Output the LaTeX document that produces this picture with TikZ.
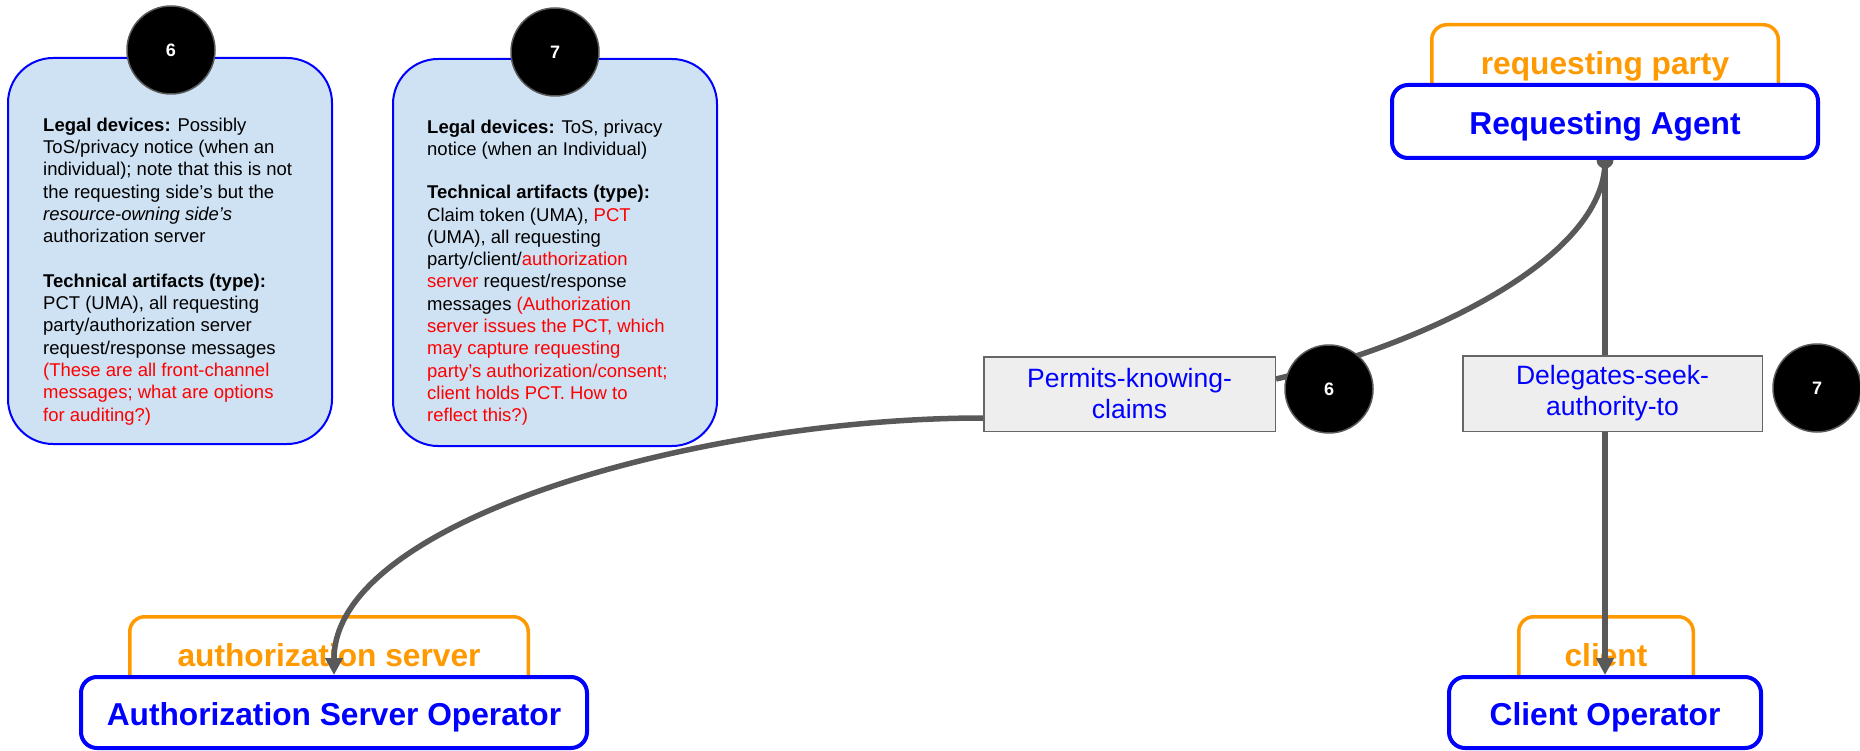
\documentclass[tikz,border=0pt]{standalone}
\usepackage{fontspec}
\setmainfont{Liberation Sans}
\usetikzlibrary{arrows.meta}

\definecolor{infofill}{HTML}{CFE2F3}
\definecolor{edgeblue}{HTML}{0000FF}
\definecolor{roleorange}{HTML}{FF9900}
\definecolor{conngray}{HTML}{595959}
\definecolor{labelfill}{HTML}{EEEEEE}
\definecolor{labeledge}{HTML}{666666}
\definecolor{notered}{HTML}{FF0000}

\pgfdeclarelayer{rolelayer}
\pgfdeclarelayer{linklayer}
\pgfsetlayers{rolelayer,linklayer,main}

\begin{document}
\begin{tikzpicture}[x=1pt,y=-1pt,
  infobox/.style={draw=edgeblue, line width=2pt, fill=infofill,
    rounded corners=45pt, inner sep=0pt},
  infotext/.style={align=left, inner sep=0pt, anchor=north west,
    font=\fontsize{18.5pt}{22.3pt}\selectfont},
  badge/.style={circle, fill=black, draw=conngray, line width=1.5pt,
    minimum size=88pt, inner sep=0pt, text=white,
    font=\fontsize{18pt}{18pt}\selectfont\bfseries},
  rolebox/.style={draw=roleorange, line width=3.5pt, rounded corners=15pt,
    fill=white, text=roleorange, inner sep=0pt,
    text height=23pt, text depth=6.7pt,
    font=\fontsize{31.7pt}{34pt}\selectfont\bfseries},
  actor/.style={draw=edgeblue, line width=4pt, rounded corners=16pt,
    fill=white, text=edgeblue, inner sep=0pt,
    text height=26.5pt, text depth=0pt,
    font=\fontsize{31.7pt}{34pt}\selectfont\bfseries},
  linkbox/.style={draw=labeledge, line width=1.5pt, fill=labelfill,
    text=edgeblue, align=center, inner sep=0pt,
    font=\fontsize{26.5pt}{31pt}\selectfont},
  link/.style={draw=conngray, line width=5.5pt},
  tip/.style={-{Triangle[length=17pt,width=17pt]}}
]
\useasboundingbox (0,0) rectangle (1860,751);

% ---- role frames behind the actors ----
\begin{pgfonlayer}{rolelayer}
  \node[rolebox, minimum width=346.5pt, minimum height=82.5pt] (rp) at (1605,66) {requesting party};
  \node[rolebox, minimum width=398.5pt, minimum height=82.5pt] (as) at (329,658) {authorization server};
  \node[rolebox, minimum width=174.5pt, minimum height=82.5pt] (cl) at (1606,658) {client};
\end{pgfonlayer}

% ---- actors ----
\node[actor, minimum width=426pt, minimum height=73pt] (ra) at (1605,121.5) {Requesting Agent};
\node[actor, minimum width=506pt, minimum height=71pt] (aso) at (334,712.5) {Authorization Server Operator};
\node[actor, minimum width=312pt, minimum height=71pt] (co) at (1605,712.5) {Client Operator};

% ---- relationship labels and their badges ----
\node[linkbox, minimum width=291.5pt, minimum height=74.5pt] (pk) at (1129.5,394) {Permits-knowing-\\claims};
\node[linkbox, minimum width=299.5pt, minimum height=75.5pt] (ds) at (1612.5,393.5) {Delegates-seek-\\authority-to};
\node[badge] (m6) at (1329,389) {6};
\node[badge] (m7) at (1817,388) {7};

% ---- connectors ----
\begin{pgfonlayer}{linklayer}
  \fill[conngray] (ra.south) circle (8.5pt);
  \draw[link] (ra.south) .. controls (1606,260) and (1420,345) .. ([yshift=15pt]pk.east);
  \draw[link, tip] ([yshift=-24pt]pk.west) .. controls (700,418) and (334,520) .. (aso.north);
  \draw[link, tip] (ra.south) -- (co.north);
\end{pgfonlayer}

% ---- note 6 ----
\node[infobox, minimum width=324pt, minimum height=386pt] (n6) at (170,251) {};
\node[badge] (b6) at (171,50) {6};
\node[infotext] (t6) at (43,117.5) {%
\textbf{Legal devices:} Possibly\\
ToS/privacy notice (when an\\
individual); note that this is not\\
the requesting side’s but the\\
\textit{resource-owning side’s}\\
authorization server\\[22.3pt]
\textbf{Technical artifacts (type):}\\
PCT (UMA), all requesting\\
party/authorization server\\
request/response messages\\
\textcolor{notered}{(These are all front-channel}\\
\textcolor{notered}{messages; what are options}\\
\textcolor{notered}{for auditing?)}};

% ---- note 7 ----
\node[infobox, minimum width=324pt, minimum height=387pt] (n7) at (555,252.5) {};
\node[badge] (b7) at (555,52) {7};
\node[infotext] (t7) at (427,119.5) {%
\textbf{Legal devices:} ToS, privacy\\
notice (when an Individual)\\[21pt]
\textbf{Technical artifacts (type):}\\
Claim token (UMA), \textcolor{notered}{PCT}\\
(UMA), all requesting\\
party/client/\textcolor{notered}{authorization}\\
\textcolor{notered}{server} request/response\\
messages \textcolor{notered}{(Authorization}\\
\textcolor{notered}{server issues the PCT, which}\\
\textcolor{notered}{may capture requesting}\\
\textcolor{notered}{party’s authorization/consent;}\\
\textcolor{notered}{client holds PCT. How to}\\
\textcolor{notered}{reflect this?)}};
\end{tikzpicture}
\end{document}
